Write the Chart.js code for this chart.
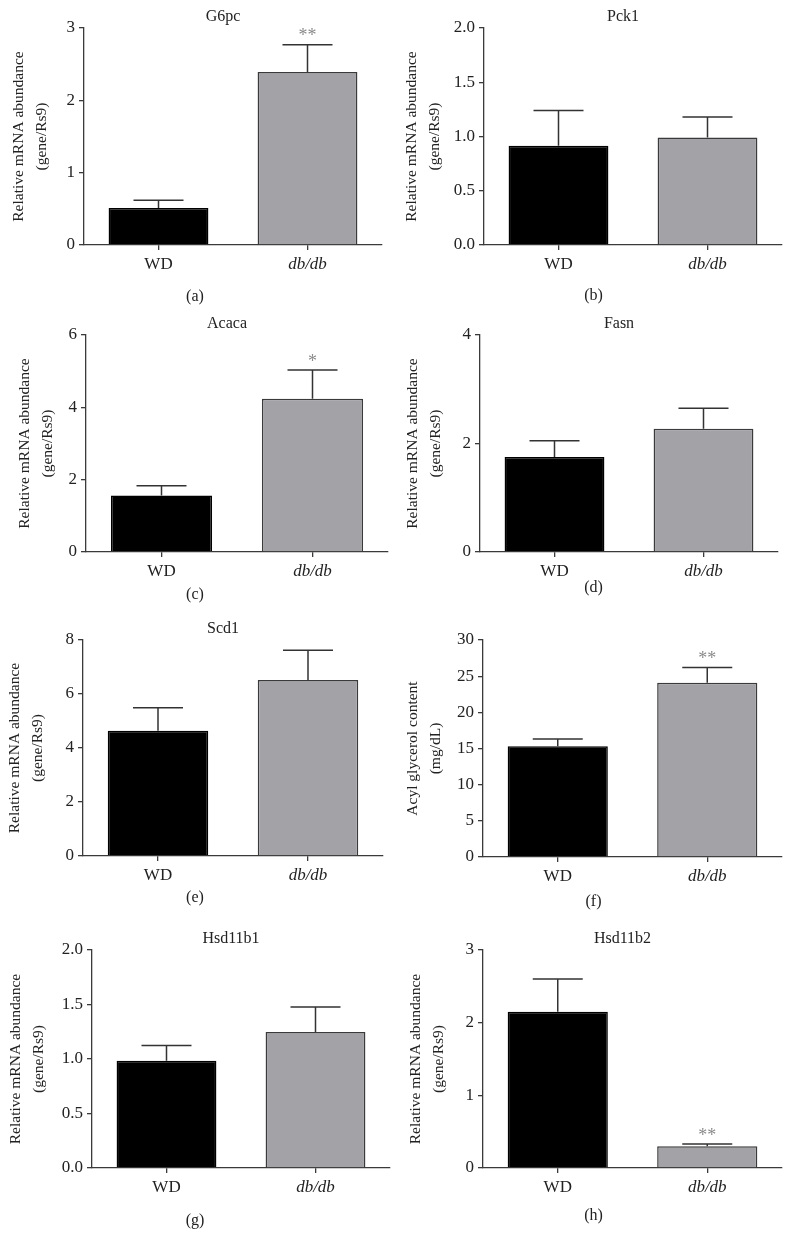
<!DOCTYPE html>
<html>
<head>
<meta charset="utf-8">
<script src="https://cdn.jsdelivr.net/npm/chart.js@4.4.1/dist/chart.umd.min.js"></script>
<style>
    body { margin: 0; background: #fff; }
    #page { position: relative; width: 793px; height: 1252px; }
    .panel { position: absolute; }
</style>
</head>
<body>
<div id="page"></div>
<script>
// data
var categories = ['WD', 'db/db'];
var genes = ['G6pc', 'Pck1', 'Acaca', 'Fasn', 'Scd1', '', 'Hsd11b1', 'Hsd11b2'];
var letters = ['(a)', '(b)', '(c)', '(d)', '(e)', '(f)', '(g)', '(h)'];
var mrnaTitle = ['Relative mRNA abundance', '(gene/Rs9)'];
var acylTitle = ['Acyl glycerol content', '(mg/dL)'];

var g6pcMean = [0.51, 2.39],     g6pcSem = [0.11, 0.38];
var pck1Mean = [0.915, 0.99],    pck1Sem = [0.325, 0.19];
var acacaMean = [1.56, 4.24],    acacaSem = [0.27, 0.79];
var fasnMean = [1.75, 2.27],     fasnSem = [0.30, 0.38];
var scd1Mean = [4.64, 6.52],     scd1Sem = [0.85, 1.10];
var acylMean = [15.3, 24.1],     acylSem = [1.0, 2.1];
var hsd1Mean = [0.985, 1.248],   hsd1Sem = [0.14, 0.23];
var hsd2Mean = [2.15, 0.30],     hsd2Sem = [0.45, 0.03];

var stars = [['', '**'], ['', ''], ['', '*'], ['', ''], ['', ''], ['', '**'], ['', ''], ['', '**']];

var yMax = [3, 2, 6, 4, 8, 30, 2, 3];
var yStep = [1, 0.5, 2, 2, 2, 5, 0.5, 1];
var yDecimals = [0, 1, 0, 0, 0, 0, 1, 0];

var means = [g6pcMean, pck1Mean, acacaMean, fasnMean, scd1Mean, acylMean, hsd1Mean, hsd2Mean];
var sems = [g6pcSem, pck1Sem, acacaSem, fasnSem, scd1Sem, acylSem, hsd1Sem, hsd2Sem];
var yTitles = [mrnaTitle, mrnaTitle, mrnaTitle, mrnaTitle, mrnaTitle, acylTitle, mrnaTitle, mrnaTitle];

// layout (page pixels)
var boxes = [
    { L: 0,   T: 0,   W: 396, H: 310, ax: 84,  top: 28,  bottom: 245,  right: 382, labX: 19, letY: 297 },
    { L: 400, T: 0,   W: 393, H: 310, ax: 484, top: 28,  bottom: 245,  right: 782, labX: 12, letY: 296 },
    { L: 0,   T: 310, W: 396, H: 310, ax: 86,  top: 335, bottom: 552,  right: 388, labX: 25, letY: 285 },
    { L: 400, T: 310, W: 393, H: 310, ax: 480, top: 335, bottom: 552,  right: 778, labX: 13, letY: 278 },
    { L: 0,   T: 620, W: 396, H: 300, ax: 83,  top: 640, bottom: 856,  right: 383, labX: 15, letY: 278 },
    { L: 400, T: 620, W: 393, H: 300, ax: 483, top: 640, bottom: 857,  right: 782, labX: 13, letY: 282 },
    { L: 0,   T: 920, W: 396, H: 332, ax: 92,  top: 950, bottom: 1168, right: 390, labX: 16, letY: 301 },
    { L: 400, T: 920, W: 393, H: 332, ax: 483, top: 950, bottom: 1168, right: 782, labX: 16, letY: 296 }
];

var serif = '"Liberation Serif", "Times New Roman", serif';
var axisColor = '#3a3a3a';

var extras = {
    id: 'extras',
    afterDatasetsDraw: function (chart, args, opts) {
        var i = opts.panel;
        var b = boxes[i];
        var ctx = chart.ctx;
        var area = chart.chartArea;
        var ys = chart.scales.y;
        var meta = chart.getDatasetMeta(0);

        ctx.save();
        // error bars
        ctx.strokeStyle = '#333';
        ctx.lineWidth = 1.5;
        meta.data.forEach(function (bar, k) {
            var yTop = bar.y;
            var yErr = ys.getPixelForValue(means[i][k] + sems[i][k]);
            ctx.beginPath();
            ctx.moveTo(bar.x, yTop);
            ctx.lineTo(bar.x, yErr);
            ctx.moveTo(bar.x - 25, yErr);
            ctx.lineTo(bar.x + 25, yErr);
            ctx.stroke();
            if (stars[i][k]) {
                ctx.fillStyle = '#8a8a8a';
                ctx.font = '18px ' + serif;
                ctx.textAlign = 'center';
                ctx.textBaseline = 'middle';
                ctx.fillText(stars[i][k], bar.x, yErr - 8);
            }
        });

        // gene title
        ctx.fillStyle = '#222';
        ctx.textAlign = 'center';
        ctx.textBaseline = 'middle';
        if (genes[i]) {
            ctx.font = '16px ' + serif;
            ctx.fillText(genes[i], (area.left + area.right) / 2 - 10, area.top - 11);
        }

        // panel letter
        ctx.font = '16px ' + serif;
        ctx.fillText(letters[i], b.W / 2 - 3, b.letY);

        // y axis title
        ctx.font = '15.5px ' + serif;
        var cy = (area.top + area.bottom) / 2;
        yTitles[i].forEach(function (line, n) {
            ctx.save();
            ctx.translate(b.labX + n * 23, cy);
            ctx.rotate(-Math.PI / 2);
            ctx.fillText(line, 0, 0);
            ctx.restore();
        });
        ctx.restore();
    }
};

var page = document.getElementById('page');

boxes.forEach(function (b, i) {
    var div = document.createElement('div');
    div.className = 'panel';
    div.style.left = b.L + 'px';
    div.style.top = b.T + 'px';
    div.style.width = b.W + 'px';
    div.style.height = b.H + 'px';
    var canvas = document.createElement('canvas');
    canvas.width = b.W;
    canvas.height = b.H;
    div.appendChild(canvas);
    page.appendChild(div);

    new Chart(canvas, {
        type: 'bar',
        data: {
            labels: categories,
            datasets: [{
                data: means[i],
                backgroundColor: ['#000000', '#a3a2a7'],
                borderColor: ['#000000', '#3a3a3a'],
                borderWidth: 1.5,
                barPercentage: 0.67,
                categoryPercentage: 1
            }]
        },
        options: {
            responsive: false,
            animation: false,
            devicePixelRatio: 1,
            layout: {
                padding: { left: 0, top: b.top - b.T, right: b.L + b.W - b.right, bottom: 0 }
            },
            plugins: {
                legend: { display: false },
                tooltip: { enabled: false },
                extras: { panel: i }
            },
            scales: {
                x: {
                    grid: {
                        display: true,
                        drawOnChartArea: false,
                        drawTicks: true,
                        tickLength: 5,
                        offset: false,
                        color: axisColor,
                        lineWidth: 1.3
                    },
                    border: { display: true, color: axisColor, width: 1.3 },
                    ticks: {
                        padding: 4,
                        color: '#222',
                        font: function (c) {
                            return { family: serif, size: 17, style: c.index === 1 ? 'italic' : 'normal' };
                        }
                    },
                    afterFit: function (scale) {
                        scale.height = b.T + b.H - b.bottom;
                    }
                },
                y: {
                    min: 0,
                    max: yMax[i],
                    grid: {
                        display: true,
                        drawOnChartArea: false,
                        drawTicks: true,
                        tickLength: 5,
                        color: axisColor,
                        lineWidth: 1.3
                    },
                    border: { display: true, color: axisColor, width: 1.3 },
                    ticks: {
                        stepSize: yStep[i],
                        padding: 4,
                        color: '#222',
                        font: { family: serif, size: 17 },
                        callback: function (v) { return Number(v).toFixed(yDecimals[i]); }
                    },
                    afterFit: function (scale) {
                        scale.width = b.ax - b.L;
                    }
                }
            }
        },
        plugins: [extras]
    });
});
</script>
</body>
</html>
